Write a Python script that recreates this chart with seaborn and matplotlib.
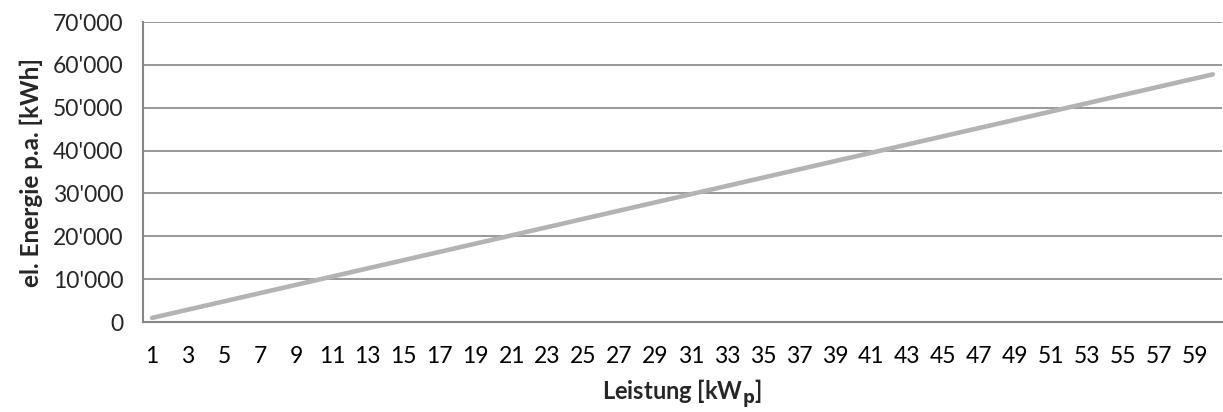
import matplotlib
matplotlib.use("Agg")
import matplotlib.pyplot as plt
import matplotlib.ticker as mticker
import seaborn as sns
import pandas as pd
import numpy as np

leistung = list(range(1, 61))
energie = [963, 1926, 2889, 3852, 4815, 5778, 6741, 7704, 8667, 9630,
           10593, 11556, 12519, 13482, 14445, 15408, 16371, 17334, 18297, 19260,
           20223, 21186, 22149, 23112, 24075, 25038, 26001, 26964, 27927, 28890,
           29853, 30816, 31779, 32742, 33705, 34668, 35631, 36594, 37557, 38520,
           39483, 40446, 41409, 42372, 43335, 44298, 45261, 46224, 47187, 48150,
           49113, 50076, 51039, 52002, 52965, 53928, 54891, 55854, 56817, 57780]
y_ticks = [0, 10000, 20000, 30000, 40000, 50000, 60000, 70000]
x_labels = [str(v) for v in range(1, 61, 2)]

df = pd.DataFrame({"Leistung": leistung, "Energie": energie})

sns.set_style("white")
plt.rcParams['font.family'] = ['Lato', 'DejaVu Sans']

fig = plt.figure(figsize=(12.23, 4.12), dpi=100)
ax = fig.add_axes([0.117, 0.2184, 0.882, 0.7282])

sns.lineplot(data=df, x="Leistung", y="Energie", ax=ax, color="#b3b3b3",
             linewidth=3.3, solid_capstyle="round")

ax.set_xlim(0.5, 60.5)
ax.set_ylim(0, 70000)
ax.set_yticks(y_ticks)
ax.yaxis.set_major_formatter(mticker.FuncFormatter(
    lambda v, p: "{:,}".format(int(v)).replace(",", "'")))
ax.set_xticks(list(range(1, 61, 2)))
ax.set_xticklabels(x_labels)
ax.set_xticks(np.arange(0.5, 61, 1.0), minor=True)
ax.tick_params(axis="x", which="major", length=0, pad=17, labelsize=16.5, colors="black")
ax.tick_params(axis="x", which="minor", length=7, width=1.5, color="#868686", direction="out")
ax.tick_params(axis="y", which="major", length=7, width=1.5, color="#868686",
               direction="out", labelsize=16.5, pad=7)
ax.yaxis.grid(True, color="#868686", linewidth=1.2)
ax.xaxis.grid(False)
ax.set_axisbelow(True)

for s in ["top", "right"]:
    ax.spines[s].set_visible(False)
for s in ["left", "bottom"]:
    ax.spines[s].set_color("#868686")
    ax.spines[s].set_linewidth(1.5)

ax.set_xlabel("Leistung [kW$_\\mathbf{p}$]", fontsize=17, fontweight="bold", labelpad=8)
ax.set_ylabel("el. Energie p.a. [kWh]", fontsize=17.5, fontweight="bold", labelpad=7)

fig.savefig("out.png", dpi=100)
